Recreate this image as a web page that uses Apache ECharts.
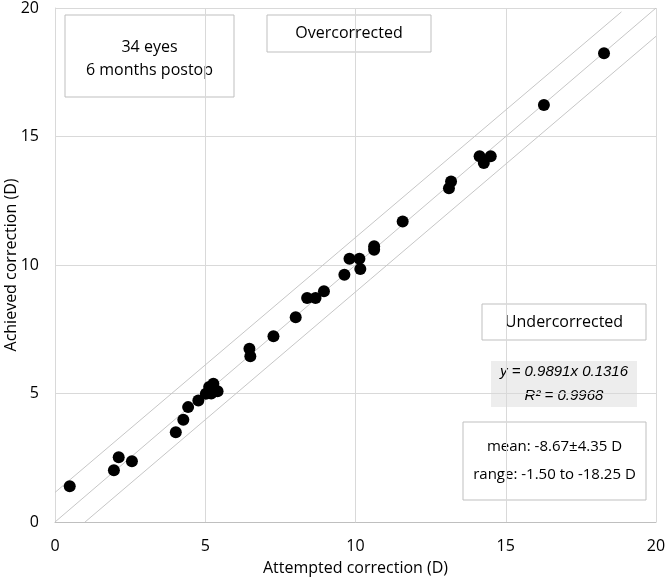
<!DOCTYPE html>
<html>
<head>
<meta charset="utf-8">
<script src="https://cdn.jsdelivr.net/npm/echarts@6/dist/echarts.min.js"></script>
<style>
  html, body { margin: 0; padding: 0; background: #fff; }
  #chart { width: 666px; height: 580px; }
</style>
</head>
<body>
<div id="chart"></div>
<script>
// attempted vs achieved correction (D)
const attempted = [
  0.49, 1.96, 2.12, 2.56, 4.02, 4.27, 4.43, 4.77, 5.02, 5.13, 5.27, 5.41, 5.2,
  6.47, 6.5, 7.27, 8.01, 8.39, 8.67, 8.95, 9.63, 9.8, 10.13, 10.16, 10.62, 10.62,
  11.57, 13.11, 13.18, 14.13, 14.27, 14.5, 16.27, 18.27
]
const achieved = [
  1.39, 2.01, 2.52, 2.36, 3.49, 3.98, 4.47, 4.73, 4.99, 5.25, 5.38, 5.09, 5.0,
  6.74, 6.45, 7.23, 7.97, 8.72, 8.72, 8.98, 9.62, 10.24, 10.24, 9.84, 10.73, 10.59,
  11.69, 12.99, 13.25, 14.23, 13.97, 14.23, 16.23, 18.24
]
const lineIdeal = [[0, 0], [20, 20]]
const lineUpper = [[0, 1.15], [18.85, 19.85]]
const lineLower = [[1, 0], [20, 18.9]]

const FONT = '"Open Sans", sans-serif'
const chart = echarts.init(document.getElementById('chart'))

const refLine = (data) => ({
  type: 'line',
  data: data,
  symbol: 'none',
  silent: true,
  lineStyle: { color: '#c6c6c6', width: 1 },
  z: 1,
})

const box = (x, y, w, h, lines, opts = {}) => ({
  type: 'group',
  children: [
    {
      type: 'rect',
      shape: { x: x, y: y, width: w, height: h },
      style: { fill: opts.fill || '#fff', stroke: opts.stroke || '#bfbfbf', lineWidth: 1 },
    },
    {
      type: 'text',
      x: x + w / 2,
      y: y + h / 2 + (opts.dy || 0),
      style: {
        text: lines.join('\n'),
        fill: '#000',
        font: (opts.italic ? 'italic ' : '') + (opts.size || 16) + 'px ' + (opts.font || FONT),
        align: 'center',
        verticalAlign: 'middle',
        lineHeight: opts.lh || 23,
      },
    },
  ],
})

chart.setOption({
  animation: false,
  grid: { left: 55, right: 10, top: 8, bottom: 58, outerBoundsMode: 'none' },
  xAxis: {
    type: 'value',
    min: 0, max: 20, interval: 5,
    name: 'Attempted correction (D)',
    nameLocation: 'middle',
    nameGap: 38,
    nameMoveOverlap: false,
    nameTextStyle: { fontFamily: FONT, fontSize: 16, color: '#000' },
    axisLine: { show: true, lineStyle: { color: '#bfbfbf' } },
    axisTick: { show: false },
    axisLabel: { fontFamily: FONT, fontSize: 16, color: '#000', margin: 16 },
    splitLine: { show: true, lineStyle: { color: '#d9d9d9' } },
  },
  yAxis: {
    type: 'value',
    min: 0, max: 20, interval: 5,
    name: 'Achieved correction (D)',
    nameLocation: 'middle',
    nameGap: 36,
    nameMoveOverlap: false,
    nameTextStyle: { fontFamily: FONT, fontSize: 16, color: '#000' },
    axisLine: { show: true, lineStyle: { color: '#d9d9d9' } },
    axisTick: { show: false },
    axisLabel: { fontFamily: FONT, fontSize: 16, color: '#000', margin: 16 },
    splitLine: { show: true, lineStyle: { color: '#d9d9d9' } },
  },
  series: [
    refLine(lineIdeal),
    refLine(lineUpper),
    refLine(lineLower),
    {
      type: 'scatter',
      symbolSize: 12,
      itemStyle: { color: '#000', opacity: 1 },
      data: attempted.map((v, i) => [v, achieved[i]]),
      z: 3,
    },
  ],
  graphic: [
    box(65, 15, 169, 82, ['34 eyes', '6 months postop'], { dy: 3 }),
    box(267, 15, 164, 37, ['Overcorrected']),
    box(482, 304, 164, 36, ['Undercorrected']),
    box(491, 361, 146, 46, ['y = 0.9891x 0.1316', 'R² = 0.9968'], { fill: '#ededed', stroke: 'none', italic: true, lh: 24, size: 15, font: '"Liberation Sans", sans-serif' }),
    box(463, 422, 183, 78, ['mean: -8.67±4.35 D', 'range: -1.50 to -18.25 D'], { lh: 28, size: 15 }),
  ],
})
</script>
</body>
</html>
